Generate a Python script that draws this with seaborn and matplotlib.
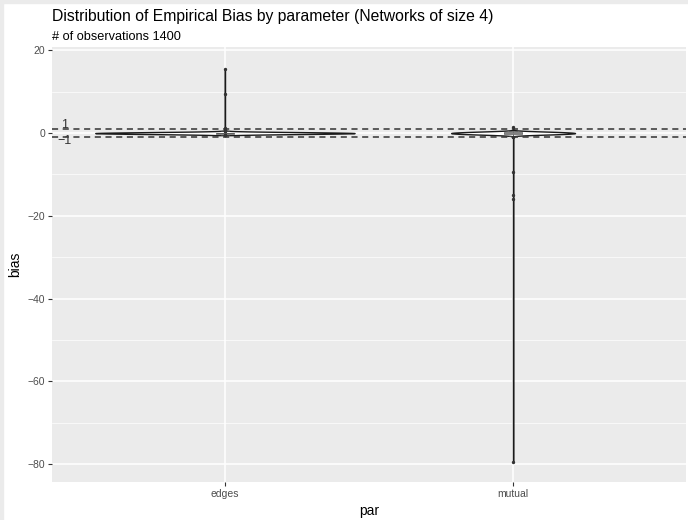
import numpy as np
import pandas as pd
import matplotlib
matplotlib.use("Agg")
import matplotlib.pyplot as plt
import seaborn as sns

# empirical bias values per parameter (value, count)
params = ["edges", "mutual"]
n_obs = 1400

edges_vals = [-0.5, -0.4, -0.3, -0.2, -0.1, 0.0, 0.1, 0.2, 0.3, 0.4, 0.5,
              0.8, 1.2, 9.5, 15.5]
edges_counts = [4, 14, 46, 90, 124, 142, 124, 90, 46, 14, 3, 1, 1, 1, 1]

mutual_vals = [-1.0, -0.6, -0.5, -0.4, -0.3, -0.2, -0.1, 0.0, 0.1, 0.2, 0.3, 0.4,
               0.5, 0.6, 1.5, -9.5, -15.0, -16.0, -79.5]
mutual_counts = [3, 10, 24, 44, 66, 84, 96, 100, 96, 84, 66, 44, 24, 10, 1, 1, 1, 1, 1]

ref_lines = [1, -1]
ref_labels = ["1", "\u22121"]
violin_widths = [0.9, 0.43]
bandwidths = [0.15, 0.03]

df = pd.concat([
    pd.DataFrame({"par": "edges", "bias": np.repeat(edges_vals, edges_counts)}),
    pd.DataFrame({"par": "mutual", "bias": np.repeat(mutual_vals, mutual_counts)}),
], ignore_index=True)

sns.set_style({"axes.facecolor": "#EBEBEB", "figure.facecolor": "white",
               "grid.color": "white", "axes.edgecolor": "#EBEBEB"})
plt.rcParams["font.family"] = ["Liberation Sans", "DejaVu Sans"]

fig = plt.figure(figsize=(6.88, 5.2), dpi=100)
ax = fig.add_axes([52 / 688, 1 - 482 / 520, 634 / 688, 435 / 520])

for p, w, bw in zip(params, violin_widths, bandwidths):
    sub = df[df["par"] == p]
    sns.violinplot(data=sub, x="par", y="bias", order=params, density_norm="width",
                   width=w, cut=0, bw_method=bw, gridsize=4000, inner=None,
                   color="white", saturation=1, linecolor="#1a1a1a", linewidth=1.0,
                   ax=ax, zorder=3)

sns.boxplot(data=df, x="par", y="bias", order=params, width=0.06, color="white",
            saturation=1, linecolor="#4d4d4d", linewidth=0.5, fliersize=1.4,
            flierprops={"marker": "o", "markerfacecolor": "#333333",
                        "markeredgecolor": "#333333"}, ax=ax, zorder=4)

for y, lab in zip(ref_lines, ref_labels):
    ax.axhline(y, color="#333333", linestyle=(0, (4, 3)), linewidth=1.1, zorder=5)
    ax.text(-0.555, y * 1.9, lab, ha="center", va="center", fontsize=9,
            color="#333333", zorder=6)

ax.set_xlim(-0.6, 1.6)
ax.set_ylim(-84.3, 20.8)
ax.set_yticks([20, 0, -20, -40, -60, -80])
ax.set_yticks([10, -10, -30, -50, -70], minor=True)
ax.grid(True, which="major", color="white", linewidth=1.1)
ax.grid(True, which="minor", axis="y", color="white", linewidth=0.5)
ax.set_axisbelow(True)
for s in ax.spines.values():
    s.set_visible(False)
ax.tick_params(axis="both", which="major", length=3, width=0.8, color="#333333",
               labelsize=7.5, labelcolor="#4D4D4D", pad=2)
ax.tick_params(axis="both", which="minor", length=0)
ax.set_xlabel("par", fontsize=10, color="black", labelpad=4)
ax.set_ylabel("bias", fontsize=10, color="black", labelpad=4)

fig.text(52 / 688, 1 - 16 / 520, "Distribution of Empirical Bias by parameter (Networks of size 4)",
         fontsize=11.3, ha="left", va="center")
fig.text(52 / 688, 1 - 37 / 520, f"# of observations {n_obs}",
         fontsize=9.2, ha="left", va="center")

# thin grey frame on the left and top edges
fig.patches.append(plt.Rectangle((0, 0), 3 / 688, 1, transform=fig.transFigure,
                                 color="#EBEBEB", zorder=0))
fig.patches.append(plt.Rectangle((0, 1 - 3 / 520), 1, 3 / 520, transform=fig.transFigure,
                                 color="#EBEBEB", zorder=0))

fig.savefig("out.png", dpi=100)
